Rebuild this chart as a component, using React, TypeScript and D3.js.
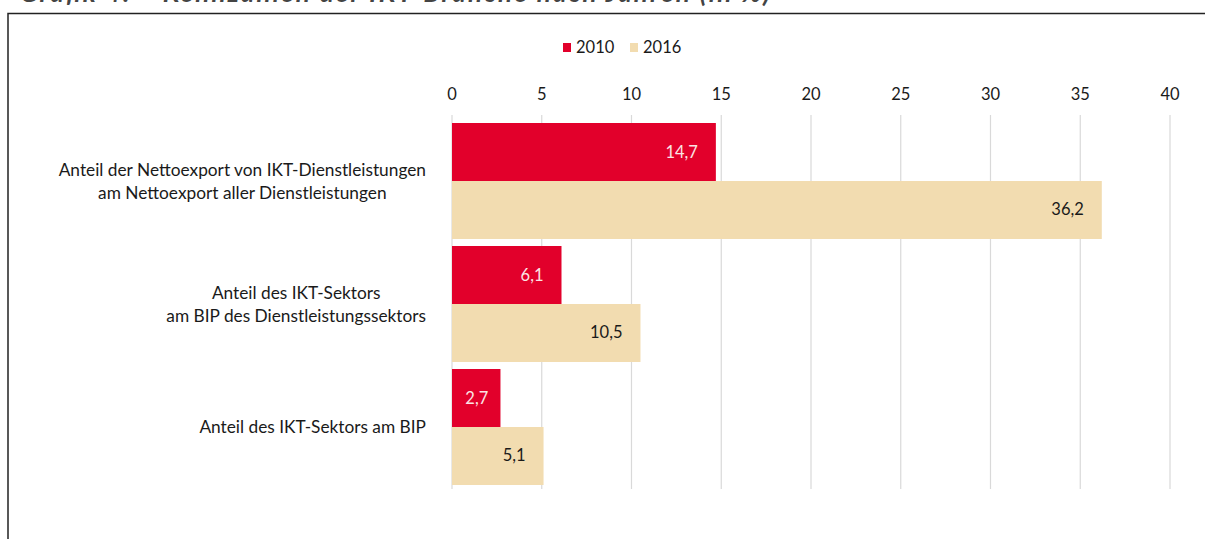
import { useEffect, useRef } from "react";
import * as d3 from "d3";

const categories = [
  "Anteil der Nettoexport von IKT-Dienstleistungen\nam Nettoexport aller Dienstleistungen",
  "Anteil des IKT-Sektors\nam BIP des Dienstleistungssektors",
  "Anteil des IKT-Sektors am BIP",
];
const seriesNames = ["2010", "2016"];
const values2010 = [14.7, 6.1, 2.7];
const values2016 = [36.2, 10.5, 5.1];
const xTicks = [0, 5, 10, 15, 20, 25, 30, 35, 40];
const title = "Grafik 4:    Kennzahlen der IKT-Branche nach Jahren (in %)";

const colors = ["#e2002b", "#f2dcb0"];
const labelColors = ["#fbe4e4", "#1a1a1a"];
const font = "Lato, 'Open Sans', sans-serif";

export default function App() {
  const ref = useRef<SVGSVGElement>(null);
  const W = 1205,
    H = 539;

  useEffect(() => {
    if (!ref.current) return;
    const svg = d3.select(ref.current);
    svg.selectAll("*").remove();

    const x = d3.scaleLinear().domain([0, 40]).range([452, 1170]);
    const y = d3
      .scaleBand<string>()
      .domain(categories)
      .range([119.5, 488.5])
      .paddingInner(0.057)
      .paddingOuter(0.0285);
    const ySub = d3
      .scaleBand<string>()
      .domain(seriesNames)
      .range([0, y.bandwidth()]);

    // title (cut off at the top, as in the source) and frame
    svg
      .append("text")
      .attr("x", 20)
      .attr("y", 2)
      .attr("font-family", font)
      .attr("font-size", 26)
      .attr("font-weight", 700)
      .attr("font-style", "italic")
      .attr("fill", "#444")
      .attr("xml:space", "preserve")
      .attr("textLength", 750)
      .attr("lengthAdjust", "spacing")
      .text(title);
    svg
      .append("path")
      .attr("d", `M8,${H} V13.5 H${W}`)
      .attr("fill", "none")
      .attr("stroke", "#222")
      .attr("stroke-width", 1.5);

    // legend
    const legendX = [563, 630];
    seriesNames.forEach((s, i) => {
      const g = svg.append("g").attr("transform", `translate(${legendX[i]},43)`);
      g.append("rect").attr("width", 8).attr("height", 9).attr("fill", colors[i]);
      g.append("text")
        .attr("x", 13)
        .attr("y", 9.5)
        .attr("font-family", font)
        .attr("font-size", 16.5)
        .attr("fill", "#1a1a1a")
        .text(s);
    });

    // grid + tick labels
    const grid = svg.append("g");
    xTicks.forEach((t) => {
      grid
        .append("line")
        .attr("x1", x(t))
        .attr("x2", x(t))
        .attr("y1", 115)
        .attr("y2", 489)
        .attr("stroke", "#d9d9d9")
        .attr("stroke-width", 1.2);
      grid
        .append("text")
        .attr("x", x(t))
        .attr("y", 100)
        .attr("text-anchor", "middle")
        .attr("font-family", font)
        .attr("font-size", 16.5)
        .attr("fill", "#1a1a1a")
        .text(t);
    });

    // bars
    const series = [values2010, values2016];
    categories.forEach((c, ci) => {
      seriesNames.forEach((s, si) => {
        const v = series[si][ci];
        const y0 = (y(c) ?? 0) + (ySub(s) ?? 0);
        const x1 = x(v);
        svg
          .append("rect")
          .attr("x", x(0))
          .attr("y", y0)
          .attr("width", x1 - x(0))
          .attr("height", ySub.bandwidth())
          .attr("fill", colors[si]);
        const lx = Math.max(x1 - 18, (x(0) + x1) / 2 + 12);
        svg
          .append("text")
          .attr("x", lx)
          .attr("y", y0 + ySub.bandwidth() / 2 + 5.5)
          .attr("text-anchor", "end")
          .attr("font-family", font)
          .attr("font-size", 16.5)
          .attr("fill", labelColors[si])
          .text(d3.format(".1f")(v).replace(".", ","));
      });
    });

    // category labels: lines centered, block right-aligned
    const right = 426;
    categories.forEach((c) => {
      const lines = c.split("\n");
      const cy = (y(c) ?? 0) + y.bandwidth() / 2;
      const g = svg.append("g");
      const texts = lines.map((l, li) =>
        g
          .append("text")
          .attr("y", cy + (li - (lines.length - 1) / 2) * 23 + 6)
          .attr("font-family", font)
          .attr("font-size", 17.3)
          .attr("fill", "#1a1a1a")
          .attr("text-anchor", "middle")
          .text(l)
      );
      const widths = texts.map((t) => (t.node() as SVGTextElement).getComputedTextLength());
      const maxW = d3.max(widths) ?? 0;
      texts.forEach((t) => t.attr("x", right - maxW / 2));
    });
  }, []);

  return (
    <svg
      ref={ref}
      width={W}
      height={H}
      style={{ position: "absolute", left: 0, top: 0, background: "#fff" }}
    />
  );
}
